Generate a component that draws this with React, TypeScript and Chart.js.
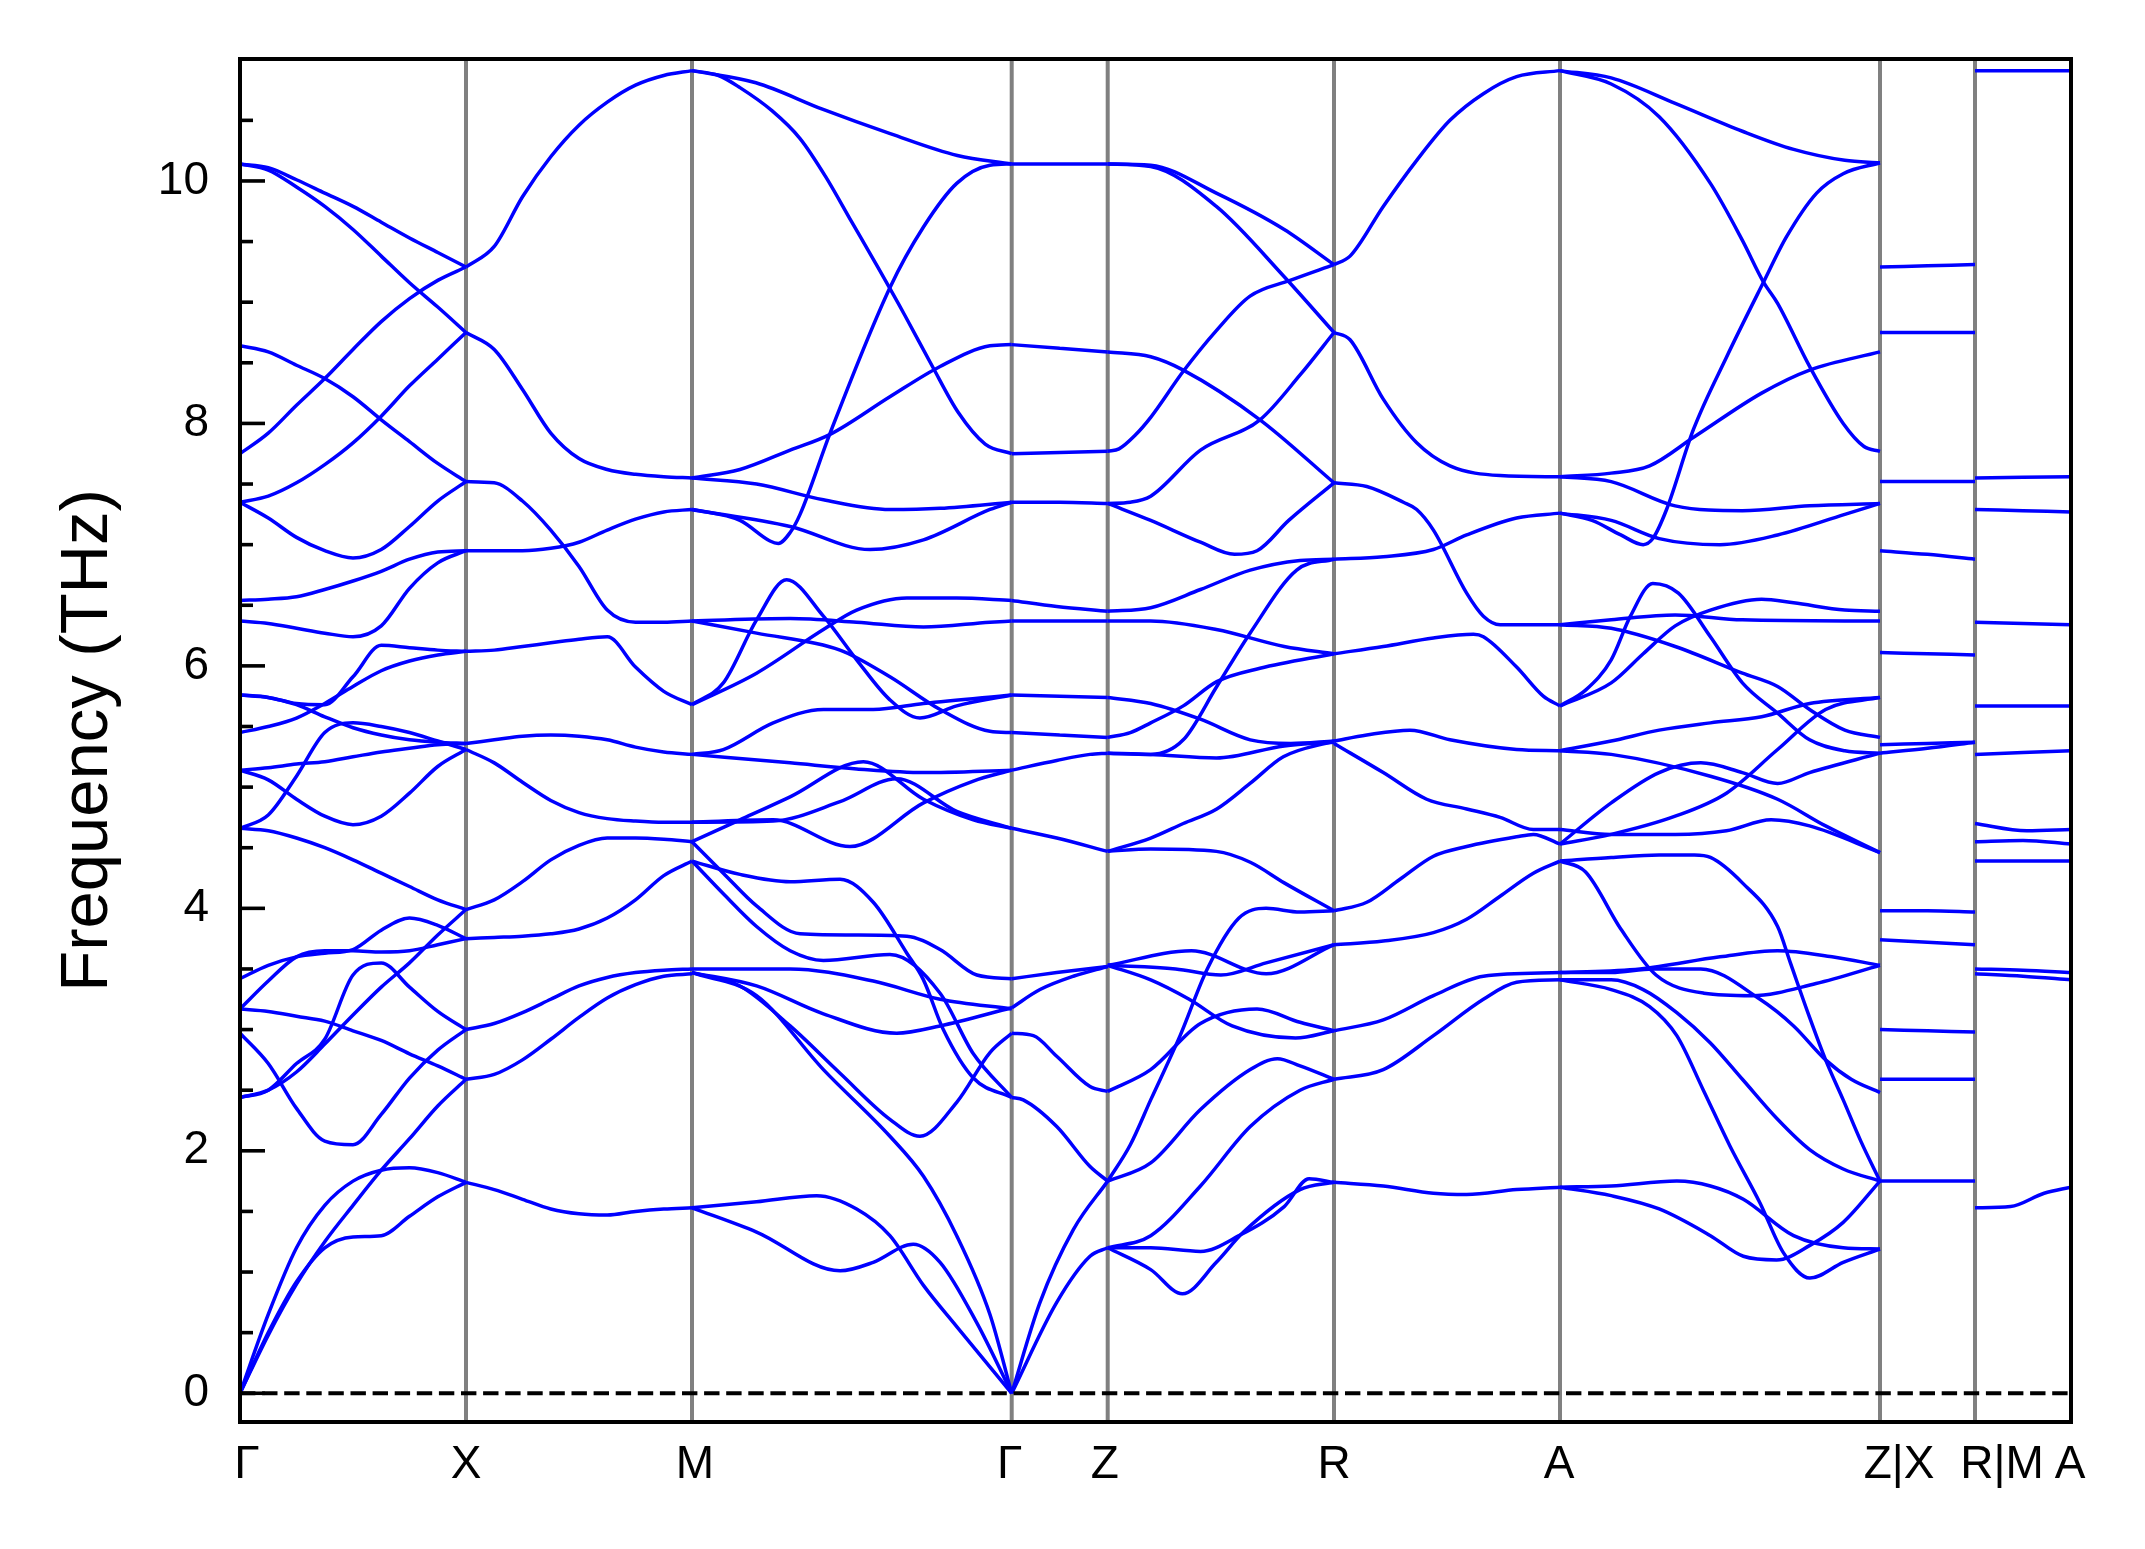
import { useEffect, useRef } from "react";
import { Chart, registerables } from "chart.js";

Chart.register(...registerables);

// ---------- axis / labels ----------
const KPOINT_LABELS = ["Γ", "X", "M", "Γ", "Z", "R", "A", "Z|X", "R|M", "A"];
const KPOINT_POS = [0, 226, 452, 771.7, 867.7, 1094, 1320, 1640, 1735, 1831];
const LABEL_SHIFT = [7, 0, 3, -2, -3, 0, -1, 19, 27, -1];
const Y_MIN = -0.237;
const Y_MAX = 11.006;
const Y_TICKS = [0, 2, 4, 6, 8, 10];
const Y_TITLE = "Frequency (THz)";

// ---------- band data (THz) ----------
// uniform grid segments: values at t = 0, 1/8, ..., 1
const T9 = [0, 0.125, 0.25, 0.375, 0.5, 0.625, 0.75, 0.875, 1];

const GX_BANDS = [
  [10.14, 10.11, 10.01, 9.9, 9.79, 9.66, 9.53, 9.41, 9.29],
  [10.14, 10.09, 9.95, 9.79, 9.6, 9.38, 9.16, 8.96, 8.75],
  [7.75, 7.92, 8.15, 8.37, 8.61, 8.84, 9.03, 9.18, 9.29],
  [8.64, 8.59, 8.48, 8.37, 8.22, 8.03, 7.85, 7.67, 7.52],
  [7.35, 7.4, 7.51, 7.66, 7.84, 8.06, 8.31, 8.53, 8.75],
  [7.35, 7.22, 7.06, 6.95, 6.89, 6.96, 7.15, 7.36, 7.52],
  [6.54, 6.55, 6.57, 6.63, 6.7, 6.78, 6.88, 6.94, 6.95],
  [6.37, 6.35, 6.31, 6.27, 6.24, 6.33, 6.64, 6.85, 6.95],
  [5.76, 5.74, 5.69, 5.68, 5.91, 6.17, 6.15, 6.13, 6.12],
  [5.45, 5.5, 5.57, 5.69, 5.83, 5.96, 6.04, 6.09, 6.12],
  [5.76, 5.74, 5.68, 5.58, 5.49, 5.43, 5.39, 5.37, 5.36],
  [5.14, 5.16, 5.19, 5.21, 5.25, 5.29, 5.32, 5.35, 5.36],
  [5.14, 5.06, 4.9, 4.76, 4.69, 4.76, 4.95, 5.17, 5.31],
  [4.66, 4.77, 5.09, 5.45, 5.53, 5.5, 5.45, 5.38, 5.31],
  [4.66, 4.64, 4.58, 4.5, 4.4, 4.29, 4.18, 4.07, 3.99],
  [2.44, 2.5, 2.72, 2.92, 3.45, 3.55, 3.35, 3.15, 3.0],
  [2.44, 2.5, 2.65, 2.88, 3.12, 3.35, 3.55, 3.78, 3.99],
  [2.97, 2.72, 2.35, 2.08, 2.05, 2.3, 2.6, 2.83, 3.0],
  [3.17, 3.15, 3.11, 3.07, 2.99, 2.91, 2.8, 2.7, 2.59],
  [3.17, 3.4, 3.6, 3.65, 3.65, 3.64, 3.65, 3.7, 3.75],
  [3.42, 3.53, 3.6, 3.63, 3.66, 3.82, 3.92, 3.86, 3.75],
  [0, 0.65, 1.2, 1.55, 1.75, 1.84, 1.86, 1.82, 1.74],
  [0, 0.5, 0.92, 1.2, 1.29, 1.3, 1.46, 1.62, 1.74],
  [0, 0.48, 0.9, 1.25, 1.55, 1.84, 2.1, 2.37, 2.59],
];

const XM_BANDS = [
  [9.29, 9.46, 9.87, 10.2, 10.46, 10.65, 10.79, 10.87, 10.91],
  [8.75, 8.61, 8.28, 7.92, 7.71, 7.62, 7.58, 7.56, 7.55],
  [7.52, 7.51, 7.36, 7.12, 6.82, 6.46, 6.36, 6.36, 6.37],
  [6.95, 6.95, 6.95, 6.97, 7.02, 7.12, 7.21, 7.27, 7.29],
  [6.12, 6.13, 6.16, 6.19, 6.22, 6.24, 5.99, 5.79, 5.68],
  [5.36, 5.39, 5.42, 5.43, 5.42, 5.39, 5.33, 5.29, 5.27],
  [5.31, 5.2, 5.04, 4.89, 4.79, 4.74, 4.72, 4.71, 4.71],
  [3.99, 4.07, 4.22, 4.4, 4.52, 4.58, 4.58, 4.57, 4.55],
  [3.75, 3.76, 3.77, 3.79, 3.83, 3.92, 4.07, 4.27, 4.39],
  [3.0, 3.05, 3.14, 3.25, 3.36, 3.43, 3.47, 3.49, 3.5],
  [2.59, 2.63, 2.75, 2.92, 3.1, 3.26, 3.37, 3.44, 3.46],
  [1.74, 1.68, 1.6, 1.52, 1.48, 1.47, 1.5, 1.52, 1.53],
];

// free-position segments: each band = [positions t (0..1), values]
const MG_BANDS = [
  [[0, 0.2, 0.41, 0.62, 0.83, 1], [10.91, 10.81, 10.59, 10.39, 10.21, 10.14]],
  [[0, 0.083, 0.15, 0.25, 0.338, 0.417, 0.5, 0.583, 0.666, 0.75, 0.833, 0.917, 1], [10.91, 10.87, 10.77, 10.58, 10.35, 10.04, 9.66, 9.28, 8.89, 8.48, 8.09, 7.83, 7.75]],
  [[0, 0.15, 0.244, 0.27, 0.307, 0.338, 0.432, 0.619, 0.724, 0.828, 0.932, 1], [7.29, 7.2, 7.03, 7.01, 7.1, 7.25, 7.92, 9.12, 9.62, 9.98, 10.13, 10.14]],
  [[0, 0.15, 0.307, 0.432, 0.619, 0.776, 0.932, 1], [7.55, 7.62, 7.78, 7.91, 8.22, 8.47, 8.64, 8.65]],
  [[0, 0.202, 0.411, 0.619, 0.776, 1], [7.55, 7.5, 7.37, 7.29, 7.3, 7.35]],
  [[0, 0.307, 0.557, 0.724, 0.932, 1], [7.29, 7.15, 6.96, 7.04, 7.29, 7.35]],
  [[0, 0.307, 0.515, 0.724, 0.932, 1], [6.37, 6.39, 6.36, 6.32, 6.36, 6.37]],
  [[0, 0.202, 0.463, 0.619, 0.776, 0.932, 1], [6.37, 6.27, 6.13, 5.91, 5.64, 5.46, 5.45]],
  [[0, 0.098, 0.202, 0.296, 0.411, 0.515, 0.619, 0.713, 0.828, 1], [5.68, 5.86, 6.38, 6.71, 6.41, 6.05, 5.72, 5.57, 5.67, 5.76]],
  [[0, 0.202, 0.411, 0.515, 0.672, 0.828, 1], [5.68, 5.94, 6.3, 6.46, 6.56, 6.56, 6.54]],
  [[0, 0.098, 0.254, 0.411, 0.567, 0.724, 1], [5.27, 5.31, 5.53, 5.64, 5.64, 5.69, 5.76]],
  [[0, 0.307, 0.515, 0.724, 1], [5.27, 5.2, 5.15, 5.12, 5.14]],
  [[0, 0.254, 0.494, 0.724, 0.88, 1], [4.71, 4.73, 4.51, 4.87, 5.05, 5.14]],
  [[0, 0.15, 0.307, 0.536, 0.724, 0.88, 1], [4.55, 4.73, 4.92, 5.21, 4.9, 4.73, 4.66]],
  [[0, 0.254, 0.463, 0.64, 0.828, 1], [4.71, 4.72, 4.88, 5.07, 4.8, 4.66]],
  [[0, 0.098, 0.202, 0.338, 0.515, 0.672, 0.776, 0.891, 1], [4.55, 4.29, 4.02, 3.79, 3.78, 3.77, 3.66, 3.45, 3.42]],
  [[0, 0.15, 0.307, 0.463, 0.567, 0.672, 0.724, 0.786, 0.88, 1], [4.39, 4.28, 4.22, 4.24, 4.05, 3.63, 3.41, 3.0, 2.6, 2.44]],
  [[0, 0.098, 0.202, 0.307, 0.411, 0.619, 0.776, 0.88, 1], [4.39, 4.12, 3.85, 3.65, 3.57, 3.62, 3.3, 2.8, 2.44]],
  [[0, 0.202, 0.411, 0.64, 0.776, 1], [3.47, 3.36, 3.13, 2.97, 3.03, 3.18]],
  [[0, 0.15, 0.307, 0.463, 0.619, 0.713, 0.828, 0.932, 1], [3.47, 3.36, 3.03, 2.64, 2.26, 2.12, 2.4, 2.81, 2.97]],
  [[0, 0.307, 0.567, 0.776, 1], [3.5, 3.5, 3.4, 3.25, 3.17]],
  [[0, 0.202, 0.411, 0.619, 0.724, 0.828, 0.932, 1], [3.47, 3.28, 2.67, 2.12, 1.79, 1.3, 0.65, 0]],
  [[0, 0.202, 0.39, 0.515, 0.619, 0.724, 0.828, 1], [1.53, 1.58, 1.63, 1.52, 1.3, 0.89, 0.55, 0]],
  [[0, 0.202, 0.463, 0.567, 0.692, 0.776, 0.891, 1], [1.53, 1.33, 1.01, 1.08, 1.23, 1.08, 0.58, 0]],
];

const GZ_BANDS = [
  [[0, 0.5, 1], [10.14, 10.14, 10.14]],
  [[0, 0.5, 1], [8.65, 8.62, 8.59]],
  [[0, 0.5, 1], [7.75, 7.76, 7.77]],
  [[0, 0.5, 1], [7.35, 7.35, 7.34]],
  [[0, 0.469, 1], [6.54, 6.49, 6.45]],
  [[0, 0.5, 1], [6.37, 6.37, 6.37]],
  [[0, 0.5, 1], [5.76, 5.75, 5.74]],
  [[0, 0.5, 1], [5.45, 5.43, 5.41]],
  [[0, 0.469, 0.816, 1], [5.14, 5.22, 5.27, 5.28]],
  [[0, 0.469, 1], [4.66, 4.58, 4.47]],
  [[0, 0.469, 1], [3.42, 3.47, 3.52]],
  [[0, 0.295, 0.642, 1], [3.18, 3.33, 3.44, 3.52]],
  [[0, 0.226, 0.469, 0.816, 1], [2.97, 2.95, 2.78, 2.53, 2.49]],
  [[0, 0.12, 0.469, 0.816, 1], [2.44, 2.42, 2.2, 1.87, 1.75]],
  [[0, 0.295, 0.642, 1], [0, 0.75, 1.35, 1.75]],
  [[0, 0.469, 0.816, 1], [0, 0.75, 1.13, 1.2]],
];

const ZR_BANDS = [
  [[0, 0.19, 0.48, 0.78, 1], [10.14, 10.13, 9.9, 9.6, 9.31]],
  [[0, 0.19, 0.48, 0.78, 1], [10.14, 10.12, 9.79, 9.21, 8.75]],
  [[0, 0.19, 0.334, 0.673, 1], [8.59, 8.55, 8.44, 8.03, 7.51]],
  [[0, 0.05, 0.12, 0.19, 0.334, 0.482, 0.629, 0.806, 1], [7.77, 7.79, 7.9, 8.05, 8.43, 8.77, 9.05, 9.18, 9.31]],
  [[0, 0.1, 0.19, 0.41, 0.673, 0.85, 1], [7.34, 7.35, 7.4, 7.78, 8.03, 8.4, 8.75]],
  [[0, 0.19, 0.41, 0.56, 0.66, 0.8, 1], [7.34, 7.2, 7.02, 6.92, 6.95, 7.2, 7.51]],
  [[0, 0.19, 0.41, 0.63, 0.85, 1], [6.45, 6.48, 6.63, 6.79, 6.87, 6.88]],
  [[0, 0.19, 0.48, 0.78, 1], [6.37, 6.37, 6.3, 6.16, 6.1]],
  [[0, 0.19, 0.334, 0.482, 0.629, 0.835, 1], [5.28, 5.27, 5.39, 5.83, 6.27, 6.79, 6.88]],
  [[0, 0.19, 0.41, 0.63, 0.81, 1], [5.74, 5.69, 5.56, 5.39, 5.36, 5.38]],
  [[0, 0.1, 0.19, 0.334, 0.482, 0.673, 1], [5.41, 5.45, 5.53, 5.67, 5.87, 5.98, 6.1]],
  [[0, 0.19, 0.48, 0.78, 1], [5.28, 5.27, 5.24, 5.34, 5.37]],
  [[0, 0.19, 0.334, 0.482, 0.629, 0.776, 1], [4.47, 4.58, 4.7, 4.82, 5.03, 5.25, 5.38]],
  [[0, 0.19, 0.48, 0.63, 0.78, 1], [4.47, 4.49, 4.47, 4.38, 4.21, 3.98]],
  [[0, 0.37, 0.7, 1], [3.53, 3.65, 3.46, 3.7]],
  [[0, 0.19, 0.36, 0.55, 0.83, 1], [3.53, 3.41, 3.25, 3.03, 2.93, 2.99]],
  [[0, 0.19, 0.41, 0.66, 0.85, 1], [2.49, 2.67, 3.05, 3.17, 3.06, 2.99]],
  [[0, 0.19, 0.41, 0.63, 0.75, 0.85, 1], [1.75, 1.9, 2.34, 2.67, 2.76, 2.7, 2.59]],
  [[0, 0.19, 0.41, 0.63, 0.85, 1], [1.2, 1.3, 1.71, 2.2, 2.5, 2.59]],
  [[0, 0.1, 0.19, 0.32, 0.44, 0.58, 0.7, 0.85, 1], [1.75, 2.05, 2.42, 2.95, 3.5, 3.92, 4.0, 3.97, 3.98]],
  [[0, 0.3, 0.5, 0.7, 1], [3.53, 3.5, 3.45, 3.55, 3.7]],
  [[0, 0.19, 0.33, 0.48, 0.6, 0.85, 1], [1.2, 1.02, 0.82, 1.08, 1.33, 1.68, 1.74]],
  [[0, 0.19, 0.41, 0.58, 0.78, 0.89, 1], [1.2, 1.2, 1.17, 1.3, 1.54, 1.77, 1.74]],
];

const RA_BANDS = [
  [[0, 0.071, 0.218, 0.366, 0.513, 0.661, 0.808, 1], [9.31, 9.38, 9.79, 10.17, 10.5, 10.72, 10.86, 10.91]],
  [[0, 0.071, 0.218, 0.366, 0.513, 0.735, 1], [8.75, 8.69, 8.2, 7.84, 7.65, 7.57, 7.56]],
  [[0, 0.145, 0.307, 0.366, 0.44, 0.587, 0.661, 0.735, 1], [7.51, 7.48, 7.35, 7.29, 7.12, 6.6, 6.41, 6.34, 6.34]],
  [[0, 0.218, 0.44, 0.587, 0.808, 1], [6.88, 6.9, 6.96, 7.08, 7.22, 7.26]],
  [[0, 0.218, 0.44, 0.617, 0.661, 0.808, 0.926, 1], [6.1, 6.16, 6.23, 6.26, 6.24, 5.99, 5.75, 5.67]],
  [[0, 0.145, 0.336, 0.513, 0.808, 1], [5.38, 5.43, 5.47, 5.39, 5.31, 5.3]],
  [[0, 0.218, 0.41, 0.587, 0.735, 0.882, 1], [5.36, 5.12, 4.9, 4.82, 4.75, 4.65, 4.65]],
  [[0, 0.145, 0.292, 0.44, 0.587, 0.808, 0.882, 1], [3.98, 4.05, 4.24, 4.43, 4.51, 4.59, 4.61, 4.53]],
  [[0, 0.218, 0.44, 0.587, 0.735, 0.882, 1], [3.7, 3.73, 3.8, 3.91, 4.1, 4.29, 4.39]],
  [[0, 0.218, 0.44, 0.661, 1], [2.99, 3.08, 3.28, 3.44, 3.47]],
  [[0, 0.218, 0.44, 0.661, 0.808, 1], [2.59, 2.67, 2.95, 3.25, 3.39, 3.41]],
  [[0, 0.218, 0.44, 0.587, 0.808, 1], [1.74, 1.71, 1.65, 1.64, 1.68, 1.7]],
];

const AZ_BANDS = [
  [[0, 0.16, 0.36, 0.57, 0.73, 0.89, 1], [10.91, 10.85, 10.64, 10.41, 10.26, 10.17, 10.15]],
  [[0, 0.16, 0.31, 0.47, 0.57, 0.635, 0.68, 0.78, 0.885, 0.95, 1], [10.91, 10.8, 10.53, 9.98, 9.51, 9.17, 8.99, 8.47, 8.0, 7.81, 7.77]],
  [[0, 0.1, 0.19, 0.26, 0.29, 0.333, 0.417, 0.521, 0.635, 0.708, 0.802, 0.885, 1], [7.26, 7.2, 7.08, 7.0, 7.05, 7.29, 7.95, 8.55, 9.16, 9.54, 9.9, 10.06, 10.15]],
  [[0, 0.16, 0.28, 0.42, 0.63, 0.78, 1], [7.56, 7.59, 7.65, 7.89, 8.25, 8.44, 8.59]],
  [[0, 0.16, 0.36, 0.57, 0.78, 1], [7.56, 7.52, 7.32, 7.28, 7.32, 7.34]],
  [[0, 0.16, 0.31, 0.5, 0.68, 0.89, 1], [7.26, 7.2, 7.05, 7.0, 7.08, 7.25, 7.34]],
  [[0, 0.16, 0.36, 0.57, 1], [6.34, 6.38, 6.42, 6.38, 6.37]],
  [[0, 0.16, 0.36, 0.57, 0.68, 0.78, 0.89, 1], [6.34, 6.31, 6.16, 5.94, 5.83, 5.64, 5.47, 5.41]],
  [[0, 0.08, 0.16, 0.22, 0.29, 0.37, 0.47, 0.57, 0.68, 0.78, 0.89, 1], [5.67, 5.8, 6.05, 6.41, 6.68, 6.6, 6.24, 5.86, 5.61, 5.39, 5.3, 5.28]],
  [[0, 0.16, 0.26, 0.36, 0.47, 0.63, 0.73, 0.89, 1], [5.67, 5.86, 6.1, 6.33, 6.46, 6.55, 6.52, 6.46, 6.45]],
  [[0, 0.16, 0.31, 0.47, 0.63, 0.78, 1], [5.3, 5.38, 5.47, 5.53, 5.58, 5.69, 5.74]],
  [[0, 0.16, 0.47, 0.68, 0.83, 1], [5.3, 5.27, 5.09, 4.9, 4.68, 4.46]],
  [[0, 0.16, 0.31, 0.44, 0.57, 0.68, 0.78, 1], [4.53, 4.87, 5.12, 5.2, 5.12, 5.03, 5.12, 5.28]],
  [[0, 0.16, 0.36, 0.52, 0.68, 0.83, 1], [4.53, 4.61, 4.76, 4.95, 5.31, 5.64, 5.74]],
  [[0, 0.16, 0.36, 0.52, 0.66, 0.78, 1], [4.65, 4.61, 4.61, 4.64, 4.73, 4.68, 4.46]],
  [[0, 0.16, 0.31, 0.42, 0.47, 0.57, 0.68, 0.72, 0.78, 0.83, 0.885, 0.94, 1], [4.39, 4.42, 4.44, 4.44, 4.42, 4.21, 3.85, 3.55, 3.1, 2.75, 2.42, 2.08, 1.75]],
  [[0, 0.08, 0.19, 0.3, 0.45, 0.6, 0.8, 1], [4.39, 4.3, 3.83, 3.45, 3.3, 3.28, 3.38, 3.53]],
  [[0, 0.16, 0.26, 0.365, 0.47, 0.57, 0.68, 0.78, 0.885, 1], [3.41, 3.41, 3.33, 3.14, 2.89, 2.59, 2.26, 2.01, 1.85, 1.75]],
  [[0, 0.16, 0.28, 0.365, 0.448, 0.531, 0.625, 0.698, 0.781, 0.885, 1], [3.41, 3.33, 3.19, 2.95, 2.5, 2.04, 1.57, 1.16, 0.95, 1.08, 1.19]],
  [[0, 0.16, 0.29, 0.44, 0.625, 0.73, 0.83, 0.91, 1], [3.47, 3.47, 3.5, 3.5, 3.25, 3.03, 2.75, 2.59, 2.48]],
  [[0, 0.25, 0.5, 0.68, 0.85, 1], [3.47, 3.5, 3.6, 3.65, 3.6, 3.53]],
  [[0, 0.16, 0.365, 0.47, 0.573, 0.73, 0.885, 1], [1.7, 1.71, 1.75, 1.71, 1.6, 1.3, 1.2, 1.19]],
  [[0, 0.16, 0.31, 0.47, 0.573, 0.677, 0.781, 0.885, 1], [1.7, 1.63, 1.52, 1.3, 1.13, 1.1, 1.22, 1.41, 1.75]],
];

const XR_BANDS = [
  [[0, 0.5, 1], [9.29, 9.3, 9.31]],
  [[0, 0.5, 1], [8.75, 8.75, 8.75]],
  [[0, 0.5, 1], [7.52, 7.52, 7.52]],
  [[0, 0.5, 1], [6.95, 6.92, 6.88]],
  [[0, 0.5, 1], [6.11, 6.1, 6.09]],
  [[0, 0.5, 1], [5.35, 5.36, 5.37]],
  [[0, 0.5, 1], [5.28, 5.32, 5.37]],
  [[0, 0.5, 1], [3.98, 3.98, 3.97]],
  [[0, 0.5, 1], [3.74, 3.72, 3.7]],
  [[0, 0.5, 1], [3.0, 2.99, 2.98]],
  [[0, 0.5, 1], [2.59, 2.59, 2.59]],
  [[0, 0.5, 1], [1.75, 1.75, 1.75]],
];

const MA_BANDS = [
  [[0, 0.5, 1], [10.91, 10.91, 10.91]],
  [[0, 0.5, 1], [7.55, 7.555, 7.56]],
  [[0, 0.5, 1], [7.29, 7.28, 7.27]],
  [[0, 0.5, 1], [6.36, 6.35, 6.34]],
  [[0, 0.5, 1], [5.67, 5.67, 5.67]],
  [[0, 0.5, 1], [5.27, 5.285, 5.3]],
  [[0, 0.54, 1], [4.7, 4.64, 4.65]],
  [[0, 0.5, 1], [4.55, 4.56, 4.53]],
  [[0, 0.5, 1], [4.39, 4.39, 4.39]],
  [[0, 0.5, 1], [3.5, 3.49, 3.47]],
  [[0, 0.5, 1], [3.46, 3.44, 3.41]],
  [[0, 0.37, 0.72, 1], [1.53, 1.54, 1.65, 1.7]],
];

const FONT = "'Liberation Sans', Arial, Helvetica, sans-serif";
const TICK_FONT_SIZE = 46;

type Pt = { x: number; y: number };

function buildDatasets() {
  const out: any[] = [];
  const push = (pts: Pt[]) =>
    out.push({
      data: pts,
      borderColor: "#0000ff",
      borderWidth: 3.5,
      pointRadius: 0,
      pointHoverRadius: 0,
      fill: false,
      cubicInterpolationMode: "monotone",
      parsing: false,
    });
  const grid = (a: number, b: number, bands: number[][]) =>
    bands.forEach((vals) => push(vals.map((v, i) => ({ x: a + T9[i] * (b - a), y: v }))));
  const free = (a: number, b: number, bands: number[][][]) =>
    bands.forEach(([ts, vs]) => push(ts.map((t, i) => ({ x: a + t * (b - a), y: vs[i] }))));
  const P = KPOINT_POS;
  grid(P[0], P[1], GX_BANDS);
  grid(P[1], P[2], XM_BANDS);
  free(P[2], P[3], MG_BANDS);
  free(P[3], P[4], GZ_BANDS);
  free(P[4], P[5], ZR_BANDS);
  free(P[5], P[6], RA_BANDS);
  free(P[6], P[7], AZ_BANDS);
  free(P[7], P[8], XR_BANDS);
  free(P[8], P[9], MA_BANDS);
  return out;
}

const decorPlugin = {
  id: "bandDecor",
  beforeDatasetsDraw(chart: any) {
    const { ctx, chartArea: a, scales } = chart;
    const x = scales.x;
    ctx.save();
    ctx.strokeStyle = "#808080";
    ctx.lineWidth = 4;
    KPOINT_POS.slice(1, -1).forEach((p) => {
      const px = x.getPixelForValue(p);
      ctx.beginPath();
      ctx.moveTo(px, a.top);
      ctx.lineTo(px, a.bottom);
      ctx.stroke();
    });
    ctx.restore();
  },
  afterDatasetsDraw(chart: any) {
    const { ctx, chartArea: a, scales } = chart;
    const y = scales.y;
    const x = scales.x;
    ctx.save();
    // dashed zero line
    const y0 = y.getPixelForValue(0);
    ctx.strokeStyle = "#000";
    ctx.lineWidth = 4;
    ctx.setLineDash([15.4, 6.7]);
    ctx.beginPath();
    ctx.moveTo(a.left, y0);
    ctx.lineTo(a.right, y0);
    ctx.stroke();
    ctx.setLineDash([]);
    // inward ticks on left axis
    ctx.lineWidth = 3.6;
    for (let v = 0; v <= 10.5 + 1e-6; v += 0.5) {
      const py = y.getPixelForValue(v);
      const major = Math.abs(v / 2 - Math.round(v / 2)) < 1e-6;
      ctx.beginPath();
      ctx.moveTo(a.left, py);
      ctx.lineTo(a.left + (major ? 25 : 13), py);
      ctx.stroke();
    }
    // frame
    ctx.lineWidth = 4;
    ctx.strokeRect(a.left, a.top, a.right - a.left, a.bottom - a.top);
    // k-point labels
    ctx.fillStyle = "#000";
    ctx.font = `${TICK_FONT_SIZE}px ${FONT}`;
    ctx.textAlign = "center";
    ctx.textBaseline = "alphabetic";
    KPOINT_LABELS.forEach((lab, i) => {
      const px = x.getPixelForValue(KPOINT_POS[i]) + LABEL_SHIFT[i];
      ctx.fillText(lab, px, a.bottom + 56);
    });
    ctx.restore();
  },
};

export default function App() {
  const ref = useRef<HTMLCanvasElement | null>(null);
  useEffect(() => {
    document.body.style.margin = "0";
    document.body.style.overflow = "hidden";
    const canvas = ref.current;
    if (!canvas) return;
    const chart = new Chart(canvas, {
      type: "line",
      data: { datasets: buildDatasets() },
      options: {
        responsive: false,
        maintainAspectRatio: false,
        animation: false,
        devicePixelRatio: 1,
        events: [],
        layout: { padding: { left: 0, top: 59, right: 74, bottom: 0 } },
        plugins: { legend: { display: false }, tooltip: { enabled: false } },
        scales: {
          x: {
            type: "linear",
            min: KPOINT_POS[0],
            max: KPOINT_POS[KPOINT_POS.length - 1],
            grid: { display: false, drawTicks: false },
            border: { display: false },
            afterBuildTicks: (axis: any) => {
              axis.ticks = KPOINT_POS.map((v) => ({ value: v }));
            },
            afterFit: (axis: any) => {
              axis.height = 127;
            },
            ticks: { display: false },
          },
          y: {
            type: "linear",
            min: Y_MIN,
            max: Y_MAX,
            grid: { display: false, drawTicks: false },
            border: { display: false },
            afterBuildTicks: (axis: any) => {
              axis.ticks = Y_TICKS.map((v) => ({ value: v }));
            },
            afterFit: (axis: any) => {
              axis.width = 240;
            },
            ticks: {
              padding: 31,
              color: "#000",
              font: { family: FONT, size: TICK_FONT_SIZE },
              callback: (v: any) => String(v),
            },
            title: {
              display: true,
              text: Y_TITLE,
              color: "#000",
              font: { family: FONT, size: 67 },
              padding: { top: 48, bottom: 0 },
            },
          },
        },
      },
      plugins: [decorPlugin],
    } as any);
    return () => chart.destroy();
  }, []);
  return (
    <canvas
      ref={ref}
      width={2145}
      height={1549}
      style={{ display: "block", width: 2145, height: 1549 }}
    />
  );
}
